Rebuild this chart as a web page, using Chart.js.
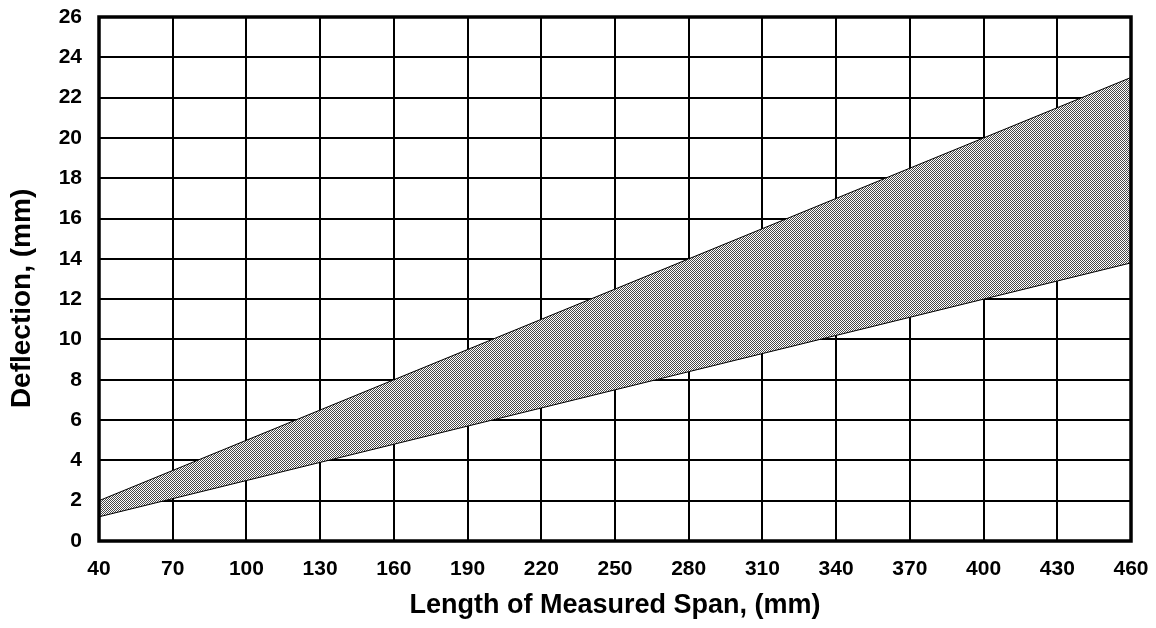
<!DOCTYPE html>
<html>
<head>
<meta charset="utf-8">
<script src="https://cdn.jsdelivr.net/npm/chart.js@4.4.1/dist/chart.umd.min.js"></script>
<style>
  html, body { margin: 0; padding: 0; background: #fff; }
  #wrap { width: 1156px; height: 628px; }
</style>
</head>
<body>
<div id="wrap"><canvas id="myChart"></canvas></div>
<script>
// values
var spans = [40, 100, 160, 220, 280, 340, 400, 460];
var upperDeflection = [2, 5, 8, 11, 14, 17, 20, 23];
var lowerDeflection = [1.2, 3, 4.8, 6.6, 8.4, 10.2, 12, 13.8];

// dithered grey fill like the original
function makePattern() {
    var p = document.createElement('canvas');
    p.width = 2; p.height = 2;
    var c = p.getContext('2d');
    c.fillStyle = '#fff';
    c.fillRect(0, 0, 2, 2);
    c.fillStyle = '#484848';
    c.fillRect(0, 0, 1, 1);
    c.fillRect(1, 1, 1, 1);
    return document.getElementById('myChart').getContext('2d').createPattern(p, 'repeat');
}

var frame = {
    id: 'frame',
    afterDatasetsDraw: function (chart) {
        var a = chart.chartArea, c = chart.ctx;
        c.save();
        c.strokeStyle = '#000';
        c.lineWidth = 3.5;
        c.strokeRect(a.left, a.top, a.right - a.left, a.bottom - a.top);
        c.restore();
    }
};

var tickFont = { family: 'Liberation Sans', size: 21, weight: 'bold' };

var ctx = document.getElementById('myChart').getContext('2d');
var myChart = new Chart(ctx, {
    type: 'line',
    data: {
        datasets: [{
            label: 'Upper',
            data: spans.map(function (s, i) { return { x: s, y: upperDeflection[i] }; }),
            borderColor: '#000',
            borderWidth: 1,
            pointRadius: 0,
            fill: false
        }, {
            label: 'Lower',
            data: spans.map(function (s, i) { return { x: s, y: lowerDeflection[i] }; }),
            borderColor: '#000',
            borderWidth: 1,
            pointRadius: 0,
            backgroundColor: makePattern(),
            fill: '-1'
        }]
    },
    options: {
        responsive: true,
        maintainAspectRatio: false,
        animation: false,
        layout: { padding: { top: 17, right: 25, left: 0, bottom: 0 } },
        plugins: {
            legend: { display: false },
            tooltip: { enabled: false }
        },
        scales: {
            x: {
                type: 'linear',
                min: 40,
                max: 460,
                afterBuildTicks: function (s) {
                    s.ticks = [];
                    for (var v = 40; v <= 460; v += 30) s.ticks.push({ value: v });
                },
                afterFit: function (s) {
                    s.height = 87;
                    s.paddingLeft = 0; s.paddingRight = 0;
                },
                grid: { color: '#000', lineWidth: 2, drawTicks: false },
                border: { display: false },
                ticks: {
                    color: '#000',
                    padding: 16,
                    maxRotation: 0,
                    font: tickFont
                },
                title: {
                    display: true,
                    text: 'Length of Measured Span, (mm)',
                    color: '#000',
                    padding: { top: 0, bottom: 6 },
                    font: { family: 'Liberation Sans', size: 27, weight: 'bold' }
                }
            },
            y: {
                min: 0,
                max: 26,
                ticks: {
                    stepSize: 2,
                    color: '#000',
                    padding: 17,
                    font: tickFont
                },
                afterFit: function (s) {
                    s.width = 99;
                    s.paddingTop = 0; s.paddingBottom = 0;
                },
                grid: { color: '#000', lineWidth: 2, drawTicks: false },
                border: { display: false },
                title: {
                    display: true,
                    // trailing spaces push the label down a little, as in the original
                    text: 'Deflection, (mm)     ',
                    color: '#000',
                    padding: { top: 5, bottom: 0 },
                    font: { family: 'Liberation Sans', size: 28, weight: 'bold' }
                }
            }
        }
    },
    plugins: [frame]
});
</script>
</body>
</html>
